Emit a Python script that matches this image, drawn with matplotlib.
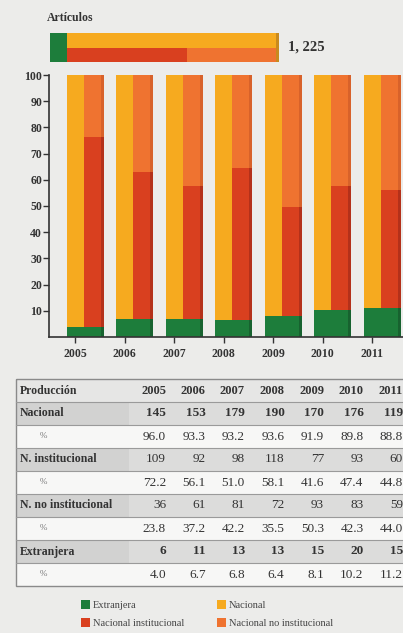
import numpy as np
import matplotlib.pyplot as plt
from matplotlib.patches import Rectangle

plt.rcParams['font.family'] = ['Liberation Serif', 'DejaVu Serif']

# data
years = ['2005', '2006', '2007', '2008', '2009', '2010', '2011']
nacional = [145, 153, 179, 190, 170, 176, 119]
nacional_pct = [96.0, 93.3, 93.2, 93.6, 91.9, 89.8, 88.8]
inst = [109, 92, 98, 118, 77, 93, 60]
inst_pct = [72.2, 56.1, 51.0, 58.1, 41.6, 47.4, 44.8]
noinst = [36, 61, 81, 72, 93, 83, 59]
noinst_pct = [23.8, 37.2, 42.2, 35.5, 50.3, 42.3, 44.0]
extranjera = [6, 11, 13, 13, 15, 20, 15]
extranjera_pct = [4.0, 6.7, 6.8, 6.4, 8.1, 10.2, 11.2]

c_green = '#1d7d3b'
c_yellow = '#f6aa1f'
c_red = '#d9401f'
c_orange = '#ef7330'
bg = '#ececea'

W, H = 403, 633
fig = plt.figure(figsize=(W / 100, H / 100), dpi=100, facecolor=bg)


def rect(x0, y0, x1, y1):
    return [x0 / W, 1 - y1 / H, (x1 - x0) / W, (y1 - y0) / H]


# full-figure axes in pixel coordinates for text / table
bgax = fig.add_axes([0, 0, 1, 1])
bgax.set_xlim(0, W)
bgax.set_ylim(H, 0)
bgax.axis('off')

bgax.text(47, 18, 'Artículos', fontsize=8.5, fontweight='bold', color='#333333', va='center')

# top total bar
total = sum(nacional) + sum(extranjera)
tot_inst = sum(inst)
tot_ext = sum(extranjera)
tax = fig.add_axes(rect(50, 33, 279, 62))
tax.set_xlim(0, total * 229 / 226)
tax.set_ylim(0, 2)
tax.axis('off')
tax.barh(1, tot_ext, height=2, left=0, color=c_green)
tax.barh(1.5, total - tot_ext, height=1, left=tot_ext, color=c_yellow)
tax.barh(0.5, tot_inst, height=1, left=tot_ext, color=c_red)
tax.barh(0.5, total - tot_ext - tot_inst, height=1, left=tot_ext + tot_inst, color=c_orange)
tax.barh(1, total * 3 / 226, height=2, left=total, color='#c98a1e')
bgax.text(288, 47, '{:,}'.format(total).replace(',', ', '), fontsize=10.5,
          fontweight='bold', color='#333333', va='center')

# main chart
ax = fig.add_axes(rect(49, 75, 403, 337))
ax.set_facecolor('none')
step = 49.5
ax.set_xlim(-26 / step, -26 / step + 354 / step)
ax.set_ylim(0, 100)
x = np.arange(len(years))
yw, rw = 17 / step, 20 / step
ext = np.array(extranjera_pct)
ins = np.array(inst_pct)
ax.bar(x - yw / 2, 100 - ext, width=yw, bottom=ext, align='edge', color=c_yellow)
ax.bar(x + yw / 2, ins, width=rw, bottom=ext, align='edge', color=c_red)
ax.bar(x + yw / 2, 100 - ext - ins, width=rw, bottom=ext + ins, align='edge', color=c_orange)
ax.bar(x - yw / 2, ext, width=yw + rw, align='edge', color=c_green)
# shaded right edge of the bars
sw = 3 / step
ax.bar(x + yw / 2 + rw - sw, ins, width=sw, bottom=ext, align='edge', color='#b4311a')
ax.bar(x + yw / 2 + rw - sw, 100 - ext - ins, width=sw, bottom=ext + ins, align='edge', color='#d8622a')
ax.bar(x + yw / 2 + rw - sw, ext, width=sw, align='edge', color='#17622f')

for s in ['top', 'right']:
    ax.spines[s].set_visible(False)
for s in ['left', 'bottom']:
    ax.spines[s].set_color('#333333')
    ax.spines[s].set_linewidth(1.2)
ax.set_yticks(range(10, 101, 10))
ax.set_xticks(x)
ax.set_xticklabels(years)
ax.tick_params(axis='y', length=4, width=1, color='#333333', labelsize=8.5, labelcolor='#333333', pad=1)
ax.tick_params(axis='x', length=4, width=1, color='#333333', labelsize=8.5, labelcolor='#333333', pad=4)
for t in ax.get_xticklabels() + ax.get_yticklabels():
    t.set_fontweight('bold')

# table
rows = [
    ('Producción', years, 'head'),
    ('Nacional', [str(v) for v in nacional], 'boldrow'),
    ('%', ['%.1f' % v for v in nacional_pct], 'pct'),
    ('N. institucional', [str(v) for v in inst], 'row'),
    ('%', ['%.1f' % v for v in inst_pct], 'pct'),
    ('N. no institucional', [str(v) for v in noinst], 'row'),
    ('%', ['%.1f' % v for v in noinst_pct], 'pct'),
    ('Extranjera', [str(v) for v in extranjera], 'boldrow'),
    ('%', ['%.1f' % v for v in extranjera_pct], 'pct'),
]
top, rh = 379, 23
left = 16
for i, (lab, vals, kind) in enumerate(rows):
    y0 = top + i * rh
    if kind == 'pct':
        fc = '#f7f7f6'
    elif kind == 'head':
        fc = '#e6e6e5'
    else:
        fc = '#dcdcdb'
    bgax.add_patch(Rectangle((left, y0), W - left + 5, rh, facecolor=fc, edgecolor='none'))
    if kind in ('row', 'boldrow'):
        bgax.add_patch(Rectangle((left, y0), 113, rh, facecolor='#d2d2d1', edgecolor='none'))
    if i > 0:
        bgax.plot([left, W], [y0, y0], color='#9a9a9a', lw=0.8)
    yc = y0 + rh / 2
    if kind == 'pct':
        bgax.text(40, yc, lab, fontsize=6.5, color='#777777', va='center')
    else:
        bgax.text(left + 4, yc, lab, fontsize=8.5, fontweight='bold', color='#333333', va='center')
    for j, v in enumerate(vals):
        bold = kind in ('head', 'boldrow')
        bgax.text(166 + j * 39.5, yc, v, fontsize=9.5 if kind != 'head' else 9,
                  fontweight='bold' if bold else 'normal', color='#333333',
                  ha='right', va='center')
bgax.add_patch(Rectangle((left, top), W, rh * len(rows), facecolor='none',
                         edgecolor='#8a8a8a', lw=1))

# legend
legend = [('Extranjera', c_green, 81, 605), ('Nacional', c_yellow, 217, 605),
          ('Nacional institucional', c_red, 81, 623), ('Nacional no institucional', c_orange, 217, 623)]
for lab, col, lx, ly in legend:
    bgax.add_patch(Rectangle((lx, ly - 5), 9, 9, facecolor=col, edgecolor='none'))
    bgax.text(lx + 12, ly, lab, fontsize=7.5, color='#444444', va='center')

fig.savefig('out.png', dpi=100, facecolor=bg)
